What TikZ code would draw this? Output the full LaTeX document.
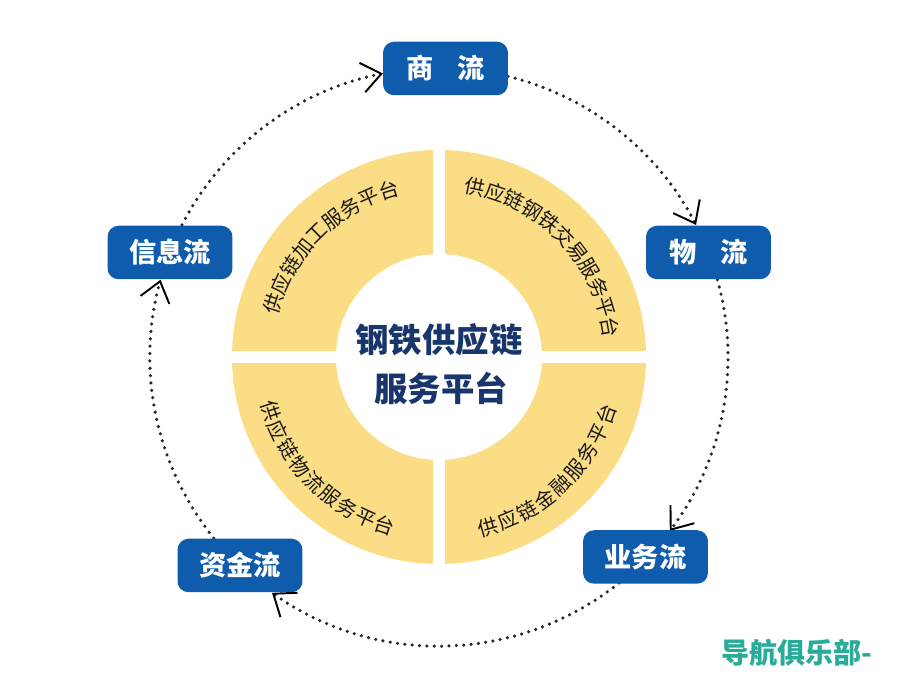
\documentclass[tikz,border=0pt]{standalone}
\usepackage{fontspec}
\setmainfont{Noto Sans CJK SC}
\newfontfamily\cjkheavy{Noto Sans CJK SC Black}
\usetikzlibrary{arrows.meta,calc}
\definecolor{boxblue}{RGB}{16,92,172}
\definecolor{ringyellow}{RGB}{251,221,134}
\definecolor{centernavy}{RGB}{24,54,108}
\definecolor{wmteal}{RGB}{40,172,152}
\begin{document}
\begin{tikzpicture}[x=0.02cm,y=0.02cm,
  flowbox/.style={fill=boxblue, rounded corners=0.22cm, minimum width=2.5cm,
    minimum height=1.07cm, inner sep=0pt, text=white,
    font=\cjkheavy\fontsize{15.5}{18}\selectfont},
  flowarc/.style={draw=black!85, line width=2pt, dash pattern=on 0pt off 4.2pt,
    line cap=round,
    -{Straight Barb[length=11pt,width=17pt,line width=1.1pt,color=black]}},
  arcch/.style={font=\fontsize{11.5}{12}\selectfont, text=black!90, inner sep=0pt},
  centertxt/.style={font=\cjkheavy\fontsize{19}{22}\selectfont, text=centernavy, inner sep=0pt}
]
\useasboundingbox (0,0) rectangle (900,675);
\coordinate (O) at (439,318);

% ring
\fill[ringyellow] (O) circle[radius=207];
\fill[white] (O) circle[radius=103];
\draw[white, line width=0.23cm] ($(O)+(-212,0)$) -- ($(O)+(212,0)$);
\draw[white, line width=0.24cm] ($(O)+(0,-212)$) -- ($(O)+(0,212)$);

% centre text
\node[centertxt] (ct1) at (439,335) {钢铁供应链};
\node[centertxt] (ct2) at (441,287) {服务平台};

% quadrant texts
\foreach \c [count=\i from 0] in {供,应,链,加,工,服,务,平,台} {
  \pgfmathsetmacro\a{134.5+4*6.9-\i*6.9}
  \pgfmathsetmacro\r{\a-90}
  \path (O) ++(\a:174) node[arcch, rotate=\r] (tl\i) {\c};
}
\foreach \c [count=\i from 0] in {供,应,链,钢,铁,交,易,服,务,平,台} {
  \pgfmathsetmacro\a{44+5*6.8-\i*6.8}
  \pgfmathsetmacro\r{\a-90}
  \path (O) ++(\a:174) node[arcch, rotate=\r] (tr\i) {\c};
}
\foreach \c [count=\i from 0] in {供,应,链,物,流,服,务,平,台} {
  \pgfmathsetmacro\a{225-4*6.8+\i*6.8}
  \pgfmathsetmacro\r{\a+90}
  \path (O) ++(\a:177) node[arcch, rotate=\r] (bl\i) {\c};
}
\foreach \c [count=\i from 0] in {供,应,链,金,融,服,务,平,台} {
  \pgfmathsetmacro\a{-46.5-4*6.85+\i*6.85}
  \pgfmathsetmacro\r{\a+90}
  \path (O) ++(\a:177) node[arcch, rotate=\r] (br\i) {\c};
}

% dotted circular flow
\path (O) ++(152.8:289) coordinate (a1s);
\path (O) ++(76.2:289) coordinate (a2s);
\path (O) ++(15.5:289) coordinate (a3s);
\path (O) ++(-51.45:289) coordinate (a4s);
\path (O) ++(-141.2:289) coordinate (a5s);
\draw[flowarc] (a1s) arc[start angle=152.8, end angle=101.2, radius=289];
\draw[flowarc] (a2s) arc[start angle=76.2, end angle=27.2, radius=289];
\draw[flowarc] (a3s) arc[start angle=15.5, end angle=-37.0, radius=289];
\draw[flowarc] (a4s) arc[start angle=-51.45, end angle=-125.3, radius=289];
\draw[flowarc] (a5s) arc[start angle=-141.2, end angle=-195.5, radius=289];

% boxes
\node[flowbox] (shang) at (445.5,606.5) {商\hspace{0.9em}流};
\node[flowbox] (wu) at (708.5,422.5) {物\hspace{0.9em}流};
\node[flowbox] (yewu) at (645.5,118) {业务流};
\node[flowbox] (zijin) at (240,109.5) {资金流};
\node[flowbox] (xinxi) at (170,422.5) {信息流};

% watermark
\node[anchor=west, inner sep=0pt, text=wmteal, font=\cjkheavy\fontsize{16}{18}\selectfont] (wm) at (721,22) {导航俱乐部-};
\end{tikzpicture}
\end{document}
